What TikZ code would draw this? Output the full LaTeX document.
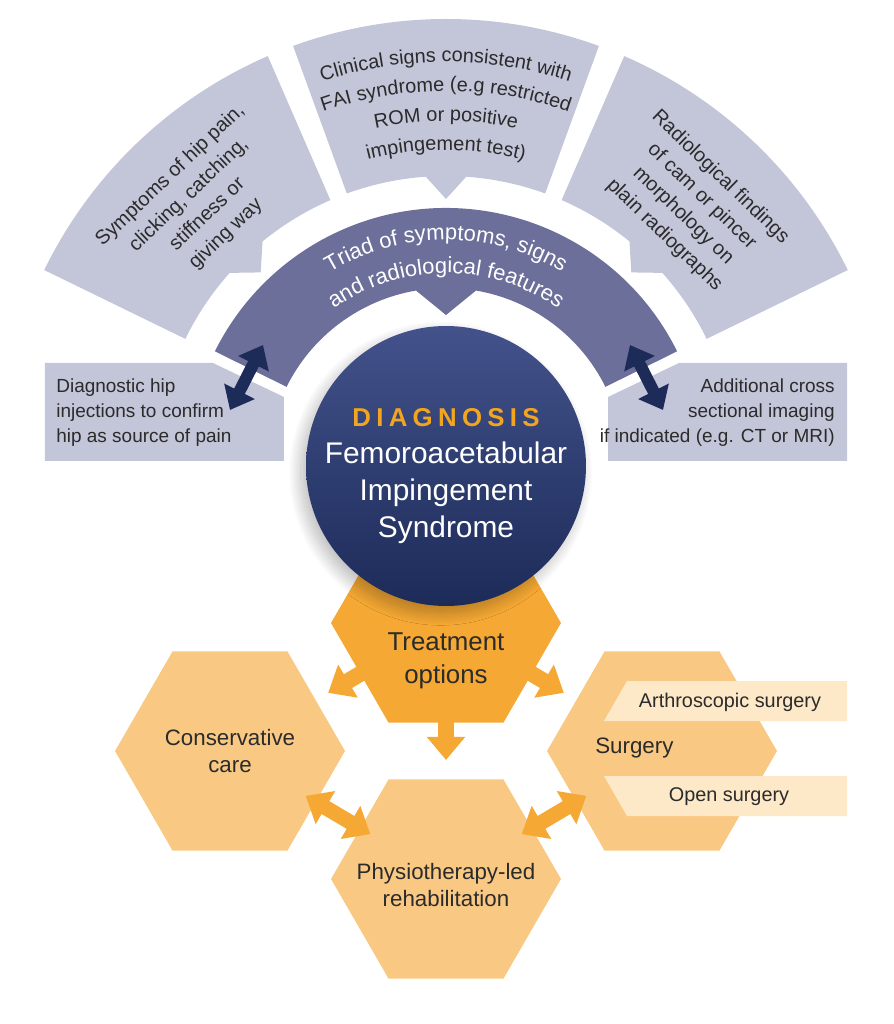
\documentclass[tikz,border=0pt]{standalone}
\usepackage{fontspec}
\setmainfont{Liberation Sans}
\usetikzlibrary{arrows.meta,shapes.geometric,calc,decorations.text,shadows.blur}
\definecolor{lav}{HTML}{C3C5D9}
\definecolor{triad}{HTML}{6C6F99}
\definecolor{navy}{HTML}{1C2B58}
\definecolor{navytop}{HTML}{43528B}
\definecolor{ordark}{HTML}{F5A833}
\definecolor{orlight}{HTML}{F9C983}
\definecolor{orpale}{HTML}{FDE8C8}
\definecolor{diagor}{HTML}{F2A51E}
\definecolor{txt}{HTML}{2B2B2B}
\tikzset{
  hexa/.style={regular polygon, regular polygon sides=6, minimum size=4.6cm, inner sep=0pt, draw=none},
  navyarrow/.style={line width=0.24cm, navy, {Triangle[width=0.66cm,length=0.42cm]}-{Triangle[width=0.66cm,length=0.42cm]}},
  orarrow/.style={line width=0.32cm, ordark, -{Triangle[width=0.74cm,length=0.46cm]}},
  orboth/.style={line width=0.3cm, ordark, {Triangle[width=0.74cm,length=0.46cm]}-{Triangle[width=0.74cm,length=0.46cm]}},
  lbl/.style={text=txt, align=center, inner sep=0pt, font=\fontsize{11.3}{15.3}\selectfont},
  boxtxt/.style={text=txt, inner sep=0pt, font=\fontsize{10.8}{14.2}\selectfont},
  hextxt/.style={text=txt, align=center, inner sep=0pt, font=\fontsize{12.7}{15.9}\selectfont},
}
% piece of a ring: colour, from, to, inner r, outer r, half width and tip of the pointer
\newcommand\ringpiece[7]{%
  \fill[#1] (#2:#5) arc[start angle=#2, end angle=#3, radius=#5] -- (#3:#4)
    arc[start angle=#3, end angle={(#2+#3)/2+#6}, radius=#4] -- ({(#2+#3)/2}:#7)
    -- ({(#2+#3)/2-#6}:#4) arc[start angle={(#2+#3)/2-#6}, end angle=#2, radius=#4] -- cycle;}
% one line of text bent round the centre
\newcommand\arctext[4]{%
  \path[decorate, decoration={text along path, text align=center, text color=#2,
    text={|\fontsize{#3}{#3}\selectfont|#4}}]
    (140:#1) arc[start angle=140, end angle=40, radius=#1];}
\begin{document}
\begin{tikzpicture}[x=0.02cm, y=0.02cm]
\useasboundingbox (-446,-558) rectangle (447,466);
\ringpiece{lav}{113.5}{154}{290}{447}{4.5}{268}
\ringpiece{lav}{70}{110}{290}{447}{4}{267}
\ringpiece{lav}{26}{66.5}{290}{447}{4.5}{268}
\ringpiece{triad}{26.4}{153.6}{178}{258}{9.7}{151}
\fill[lav] (-401,5) -- (-401,103) -- (-233,103) -- (-162,69) -- (-162,5) -- cycle;
\fill[lav] (401,5) -- (401,103) -- (233,103) -- (162,69) -- (162,5) -- cycle;
\coordinate (injtip) at (-216,56);
\coordinate (triadl) at (-183,121);
\coordinate (imgtip) at (217,56);
\coordinate (triadr) at (184,121);
\draw[navyarrow] (injtip) -- (triadl);
\draw[navyarrow] (imgtip) -- (triadr);

\node[lbl, rotate=43.5] (symptoms) at (133.5:360) {Symptoms of hip pain,\\clicking, catching,\\stiffness or\\giving way};
\node[lbl, rotate=-44] (radiol) at (46.5:358) {Radiological findings\\of cam or pincer\\morphology on\\plain radiographs};
\arctext{404}{txt}{11.3}{Clinical signs consistent with}
\arctext{375}{txt}{11.3}{FAI syndrome (e.g restricted}
\arctext{345}{txt}{11.3}{ROM or positive}
\arctext{316}{txt}{11.3}{impingement test)}
\arctext{226}{white}{12.5}{Triad of symptoms, signs}
\arctext{193}{white}{12.5}{and radiological features}
\node[boxtxt, anchor=west, align=left] (inject) at (-390,53) {Diagnostic hip\\injections to confirm\\hip as source of pain};
\node[boxtxt, anchor=east, align=right] (imaging) at (389,53) {Additional cross\\sectional imaging\\if indicated (e.g. CT or MRI)};

% treatment hexagons
\node[hexa, fill=orlight] (cons) at (-216,-285) {};
\node[hexa, fill=orlight] (surg) at (216,-285) {};
\node[hexa, fill=orlight] (physio) at (0,-413) {};
\node[hexa, fill=ordark] (treat) at (0,-157) {};
\fill[orpale] (181,-215) -- (401,-215) -- (401,-255) -- (158,-255) -- cycle;
\fill[orpale] (158,-310) -- (401,-310) -- (401,-350) -- (181,-350) -- cycle;
\draw[orarrow, shorten <=1.8cm] (treat.center) -- ($(treat.center)!2.74cm!(cons.center)$);
\draw[orarrow, shorten <=1.8cm] (treat.center) -- ($(treat.center)!2.74cm!(surg.center)$);
\draw[orarrow, shorten <=1.9cm] (treat.center) -- ($(treat.center)!2.74cm!(physio.center)$);
\draw[orboth, shorten <=1.76cm, shorten >=1.76cm] (cons.center) -- (physio.center);
\draw[orboth, shorten <=1.76cm, shorten >=1.76cm] (physio.center) -- (surg.center);

% diagnosis
\node[circle, minimum size=5.6cm, inner sep=0pt, top color=navytop, bottom color=navy,
  blur shadow={shadow xshift=-3pt, shadow yshift=-4pt, shadow blur radius=7pt, shadow blur steps=24, shadow opacity=28}] (diag) at (0,0) {};
\node[inner sep=0pt, text=diagor, font=\bfseries\fontsize{14.7}{17}\selectfont] (diaghead) at (0,48)
  {D\kern3pt I\kern3pt A\kern3pt G\kern3pt N\kern3pt O\kern3pt S\kern3pt I\kern3pt S};
\node[inner sep=0pt, text=white, align=center, font=\fontsize{17}{21}\selectfont] (diagname) at (0,-27)
  {Femoroacetabular\\Impingement\\Syndrome};

\node[hextxt, font=\fontsize{14.7}{18.7}\selectfont] (treattxt) at (0,-195) {Treatment\\options};
\node[hextxt] (constxt) at (cons) {Conservative\\care};
\node[hextxt] (physiotxt) at (0,-419) {Physiotherapy-led\\rehabilitation};
\node[hextxt, anchor=west] (surgtxt) at (149,-282) {Surgery};
\node[boxtxt, font=\fontsize{11.3}{13}\selectfont] (arthro) at (284,-236) {Arthroscopic surgery};
\node[boxtxt, font=\fontsize{11.3}{13}\selectfont] (open) at (283,-331) {Open surgery};
\end{tikzpicture}
\end{document}
